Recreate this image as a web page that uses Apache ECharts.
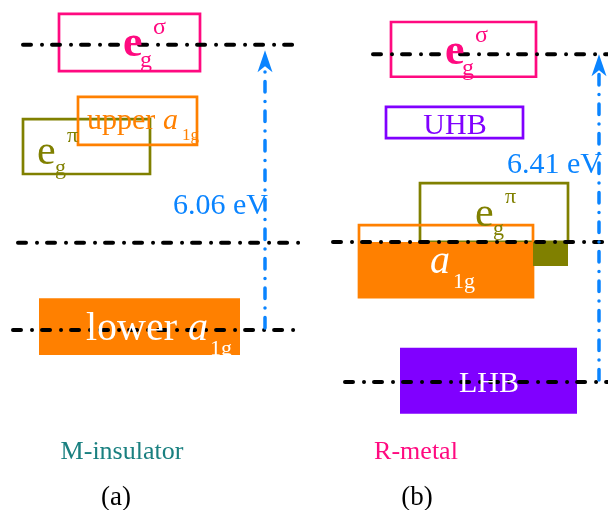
<!DOCTYPE html>
<html>
<head>
<meta charset="utf-8">
<script src="https://cdn.jsdelivr.net/npm/echarts@6/dist/echarts.min.js"></script>
<style>
  html, body { margin: 0; padding: 0; background: #fff; }
  #chart { width: 608px; height: 510px; }
</style>
</head>
<body>
<div id="chart"></div>
<script>
// Energy gaps (eV) between the lowest and highest levels of each phase
const gapA = 6.06;   // M-insulator
const gapB = 6.41;   // R-metal

// Dash-dot reference levels: [xStart, xEnd, energy eV]
const levelsA = [[23, 298, 6.18], [18, 302, 1.89], [13, 297, 0]];
const levelsB = [[373, 608, 6.41], [333, 608, 2.74], [345, 608, 0]];

// Bands: [xStart, xEnd, top energy, bottom energy]
const bandNamesA = ['egPi', 'upperA1g', 'egSigma', 'lowerA1g'];
const bandsA = [
  [23, 150, 4.57, 3.38],
  [78, 197, 5.05, 4.01],
  [59, 200, 6.85, 5.61],
  [39, 240, 0.69, -0.54]
];
const bandNamesB = ['egSigma', 'UHB', 'egPi', 'a1gOutline', 'a1gFilled', 'egPiFilled', 'LHB'];
const bandsB = [
  [391, 536, 7.04, 5.97],
  [386, 523, 5.38, 4.77],
  [420, 568, 3.89, 2.74],
  [359, 533, 3.07, 1.66],
  [359, 533, 2.74, 1.66],
  [533, 568, 2.74, 2.27],
  [400, 577, 0.67, -0.62]
];

// Gap arrows: [x, from energy, to energy]
const arrowsA = [[265, 0, gapA]];
const arrowsB = [[599, 0, gapB]];

// Label anchors: [x, energy]
const labelKeysA = ['egSigma', 'egPi', 'upperA1g', 'lowerA1g', 'gapA', 'captionA', 'tagA'];
const labelPosA = [[123, 6.22], [37, 3.87], [87, 4.55], [86, 0.04], [268, 2.73], [122, -2.60], [116, -3.60]];
const labelKeysB = ['egSigma', 'UHB', 'gapB', 'egPi', 'a1g', 'LHB', 'captionB', 'tagB'];
const labelPosB = [[445, 6.47], [455, 5.05], [602, 4.28], [475, 3.31], [430, 2.37], [489, 0.0], [416, -1.33], [417, -2.23]];

const PINK = '#ff0a80';
const ORANGE = '#ff8000';
const OLIVE = '#808000';
const PURPLE = '#8000ff';
const BLUE = '#0a84ff';
const TEAL = '#1a8080';
const FONT = '"Liberation Serif", "Times New Roman", serif';

const bandStyle = {
  egSigma:    { stroke: PINK },
  upperA1g:   { stroke: ORANGE },
  egPi:       { stroke: OLIVE },
  lowerA1g:   { fill: ORANGE },
  UHB:        { stroke: PURPLE },
  a1gOutline: { stroke: ORANGE },
  a1gFilled:  { fill: ORANGE },
  egPiFilled: { fill: OLIVE },
  LHB:        { fill: PURPLE }
};

// Text pieces: offsets in px from the anchor; x:1 marks lower-case (x-height) glyphs
const P = (t, dx, dy, size, color, opt) => Object.assign({ t, dx, dy, size, color }, opt || {});
const labelTemplates = {
  egSigma:  [P('e', 0, 0, 44, PINK, { bold: 1, x: 1 }), P('g', 17, 17, 24, PINK, { x: 1 }), P('σ', 30, -16, 24, PINK, { x: 1 })],
  egPi:     [P('e', 0, 0, 42, OLIVE, { x: 1 }), P('g', 18, 16, 22, OLIVE, { x: 1 }), P('π', 30, -16, 22, OLIVE, { x: 1 })],
  upperA1g: [P('upper', 0, 0, 30, ORANGE, { x: 1 }), P('a', 76, 0, 30, ORANGE, { italic: 1, x: 1 }), P('1g', 95, 14, 17, ORANGE)],
  lowerA1g: [P('lower', 0, 0, 40, '#fff', { x: 1 }), P('a', 102, 0, 40, '#fff', { italic: 1, x: 1 }), P('1g', 124, 20, 22, '#fff')],
  a1g:      [P('a', 0, 0, 40, '#fff', { italic: 1, x: 1 }), P('1g', 23, 20, 22, '#fff')],
  UHB:      [P('UHB', 0, 0, 30, PURPLE, { align: 'center' })],
  LHB:      [P('LHB', 0, 0, 30, '#fff', { align: 'center' })],
  gapA:     [P(gapA.toFixed(2) + ' eV', 0, 0, 30, BLUE, { align: 'right' })],
  gapB:     [P(gapB.toFixed(2) + ' eV', 0, 0, 30, BLUE, { align: 'right' })],
  captionA: [P('M-insulator', 0, 0, 26, TEAL, { align: 'center' })],
  captionB: [P('R-metal', 0, 0, 26, PINK, { align: 'center' })],
  tagA:     [P('(a)', 0, 0, 27, '#000', { align: 'center' })],
  tagB:     [P('(b)', 0, 0, 27, '#000', { align: 'center' })]
};

function bandSeries(rows, names, idx) {
  return {
    type: 'custom', xAxisIndex: idx, yAxisIndex: idx, z: 1, silent: true,
    data: rows,
    renderItem(params, api) {
      const p0 = api.coord([api.value(0), api.value(2)]);
      const p1 = api.coord([api.value(1), api.value(3)]);
      const s = bandStyle[names[params.dataIndex]];
      return {
        type: 'rect',
        shape: { x: p0[0], y: p0[1], width: p1[0] - p0[0], height: p1[1] - p0[1] },
        style: { fill: s.fill || 'none', stroke: s.stroke || 'none', lineWidth: s.stroke ? 2.7 : 0 }
      };
    }
  };
}

function levelSeries(rows, idx) {
  return {
    type: 'custom', xAxisIndex: idx, yAxisIndex: idx, z: 2, silent: true,
    data: rows,
    renderItem(params, api) {
      const p0 = api.coord([api.value(0), api.value(2)]);
      const p1 = api.coord([api.value(1), api.value(2)]);
      return {
        type: 'line',
        shape: { x1: p0[0], y1: p0[1], x2: p1[0], y2: p1[1] },
        style: { stroke: '#000', fill: 'none', lineWidth: 4, lineCap: 'round', lineDash: [8, 11, 0.01, 10] }
      };
    }
  };
}

function arrowSeries(rows, idx) {
  return {
    type: 'custom', xAxisIndex: idx, yAxisIndex: idx, z: 3, silent: true,
    data: rows,
    renderItem(params, api) {
      const base = api.coord([api.value(0), api.value(1)]);
      const tip = api.coord([api.value(0), api.value(2)]);
      const x = tip[0], ty = tip[1];
      const headH = 22, headW = 7.5, notch = 16;
      return {
        type: 'group',
        children: [
          {
            type: 'line',
            shape: { x1: base[0], y1: base[1] - 2, x2: x, y2: ty + notch + 4 },
            style: { stroke: BLUE, fill: 'none', lineWidth: 3.5, lineCap: 'round', lineDash: [10.5, 9.5, 0.01, 9.5] }
          },
          {
            type: 'polygon',
            shape: { points: [[x, ty], [x + headW, ty + headH], [x, ty + notch], [x - headW, ty + headH]] },
            style: { fill: BLUE, stroke: 'none' }
          }
        ]
      };
    }
  };
}

function labelSeries(rows, keys, idx) {
  return {
    type: 'custom', xAxisIndex: idx, yAxisIndex: idx, z: 4, silent: true,
    data: rows,
    renderItem(params, api) {
      const a = api.coord([api.value(0), api.value(1)]);
      const pieces = labelTemplates[keys[params.dataIndex]];
      return {
        type: 'group',
        children: pieces.map(p => ({
          type: 'text',
          x: a[0] + p.dx,
          // nudge so the visible glyph body is centred on the anchor
          y: a[1] + p.dy + (p.x ? 0.04 : 0.07) * p.size,
          style: {
            text: p.t,
            fill: p.color,
            font: (p.italic ? 'italic ' : '') + (p.bold ? 'bold ' : '') + p.size + 'px ' + FONT,
            align: p.align || 'left',
            verticalAlign: 'middle'
          }
        }))
      };
    }
  };
}

const chart = echarts.init(document.getElementById('chart'), null, { renderer: 'canvas' });
chart.setOption({
  animation: false,
  backgroundColor: '#fff',
  grid: [
    { left: 0, right: 0, top: 0, bottom: 0 },
    { left: 0, right: 0, top: 0, bottom: 0 }
  ],
  xAxis: [
    { type: 'value', gridIndex: 0, min: 0, max: 608, show: false },
    { type: 'value', gridIndex: 1, min: 0, max: 608, show: false }
  ],
  yAxis: [
    { type: 'value', gridIndex: 0, min: -3.9, max: 7.15, show: false },
    { type: 'value', gridIndex: 1, min: -2.5, max: 7.47, show: false }
  ],
  series: [
    bandSeries(bandsA, bandNamesA, 0),
    bandSeries(bandsB, bandNamesB, 1),
    levelSeries(levelsA, 0),
    levelSeries(levelsB, 1),
    arrowSeries(arrowsA, 0),
    arrowSeries(arrowsB, 1),
    labelSeries(labelPosA, labelKeysA, 0),
    labelSeries(labelPosB, labelKeysB, 1)
  ]
});
</script>
</body>
</html>
